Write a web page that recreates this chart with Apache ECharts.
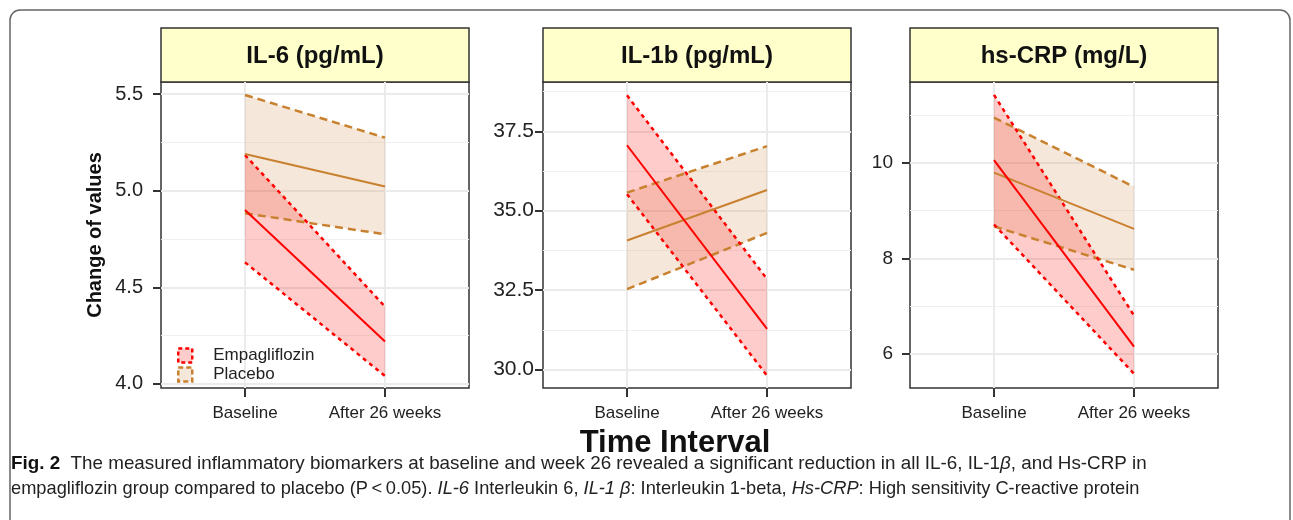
<!DOCTYPE html>
<html><head><meta charset="utf-8">
<script src="https://cdn.jsdelivr.net/npm/echarts@6/dist/echarts.min.js"></script>
<style>html,body{margin:0;padding:0;background:#fff}#c{width:1293px;height:520px}</style>
</head><body><div id="c"></div>
<script>
// ---------- data ----------
const categories = ['Baseline', 'After 26 weeks'];
const panelTitles = ['IL-6 (pg/mL)', 'IL-1b (pg/mL)', 'hs-CRP (mg/L)'];
const groupNames = ['Empagliflozin', 'Placebo'];
// each entry: [Baseline, After 26 weeks]
const il6EmpaMean = [4.90, 4.22];
const il6EmpaUpper = [5.184, 4.40];
const il6EmpaLower = [4.629, 4.041];
const il6PlacMean = [5.19, 5.021];
const il6PlacUpper = [5.495, 5.274];
const il6PlacLower = [4.883, 4.774];

const il1bEmpaMean = [37.06, 31.28];
const il1bEmpaUpper = [38.63, 32.85];
const il1bEmpaLower = [35.52, 29.81];
const il1bPlacMean = [34.06, 35.65];
const il1bPlacUpper = [35.57, 37.03];
const il1bPlacLower = [32.53, 34.30];

const crpEmpaMean = [10.06, 6.15];
const crpEmpaUpper = [11.43, 6.80];
const crpEmpaLower = [8.71, 5.58];
const crpPlacMean = [9.80, 8.62];
const crpPlacUpper = [10.955, 9.50];
const crpPlacLower = [8.67, 7.76];

const il6MajorTicks = [4.0, 4.5, 5.0, 5.5];
const il6MinorTicks = [4.25, 4.75, 5.25];
const il1bMajorTicks = [30.0, 32.5, 35.0, 37.5];
const il1bMinorTicks = [31.25, 33.75, 36.25, 38.75];
const crpMajorTicks = [6, 8, 10];
const crpMinorTicks = [7, 9, 11];
const il6Limits = [3.979, 5.562];
const il1bLimits = [29.42, 39.05];
const crpLimits = [5.28, 11.70];

// ---------- layout / style ----------
const panels = [
  {title: panelTitles[0], em: [il6EmpaMean, il6EmpaUpper, il6EmpaLower], pl: [il6PlacMean, il6PlacUpper, il6PlacLower],
   major: il6MajorTicks, minor: il6MinorTicks, lim: il6Limits, dec: 1, left: 161, labelMargin: 18, labelSize: 20},
  {title: panelTitles[1], em: [il1bEmpaMean, il1bEmpaUpper, il1bEmpaLower], pl: [il1bPlacMean, il1bPlacUpper, il1bPlacLower],
   major: il1bMajorTicks, minor: il1bMinorTicks, lim: il1bLimits, dec: 1, left: 543, labelMargin: 9, labelSize: 21},
  {title: panelTitles[2], em: [crpEmpaMean, crpEmpaUpper, crpEmpaLower], pl: [crpPlacMean, crpPlacUpper, crpPlacLower],
   major: crpMajorTicks, minor: crpMinorTicks, lim: crpLimits, dec: 0, left: 910, labelMargin: 17, labelSize: 19}
];
const W = 308, TOP = 82, H = 306;
const FONT = '"Liberation Sans", Arial, sans-serif';
const RED = '#ff0000', BROWN = '#c8812f';
const RED_FILL = 'rgba(255,0,0,0.2)', BROWN_FILL = 'rgba(205,133,63,0.2)';
const GRIDC = '#ebebeb';

function pts(arr) { return arr.map((v, i) => [i + 1, v]); }

function bandRender(fill) {
  return function (params, api) {
    if (params.dataIndexInside !== 0) return null;
    const n = params.dataInsideLength;
    const top = [], bot = [];
    for (let i = 0; i < n; i++) {
      top.push(api.coord([api.value(0, i), api.value(2, i)]));
      bot.push(api.coord([api.value(0, i), api.value(1, i)]));
    }
    return {type: 'polygon', shape: {points: top.concat(bot.reverse())}, style: {fill: fill}};
  };
}

const grid = [], xAxis = [], yAxis = [], series = [], graphic = [];

graphic.push({type: 'rect', silent: true, z: 0, shape: {x: 10, y: 10, width: 1280, height: 540, r: 10},
  style: {fill: 'none', stroke: '#666', lineWidth: 1.5}});

panels.forEach((p, k) => {
  grid.push({left: p.left, top: TOP, width: W, height: H, show: true, borderColor: '#333', borderWidth: 1.5, backgroundColor: 'transparent'});
  xAxis.push({type: 'value', gridIndex: k, min: 0.4, max: 2.6,
    axisLine: {show: false},
    axisTick: {show: true, customValues: [1, 2], length: 9, lineStyle: {color: '#333', width: 2}},
    axisLabel: {show: true, customValues: [1, 2], formatter: v => categories[Math.round(v) - 1], margin: 17,
      fontSize: 17, color: '#222', fontFamily: FONT},
    splitLine: {show: true, lineStyle: {color: GRIDC, width: 2}}
  });
  // major axis
  yAxis.push({type: 'value', gridIndex: k, min: p.lim[0], max: p.lim[1],
    axisLine: {show: false},
    axisTick: {show: true, customValues: p.major, length: 8, lineStyle: {color: '#333', width: 2}},
    axisLabel: {show: true, customValues: p.major, formatter: v => v.toFixed(p.dec), margin: p.labelMargin,
      fontSize: p.labelSize, color: '#222', fontFamily: FONT},
    splitLine: {show: true, lineStyle: {color: GRIDC, width: 2}}
  });
  // minor grid axis
  yAxis.push({type: 'value', gridIndex: k, min: p.lim[0], max: p.lim[1], position: 'left',
    axisLine: {show: false},
    axisTick: {show: false, customValues: p.minor},
    axisLabel: {show: false, customValues: p.minor},
    splitLine: {show: true, lineStyle: {color: '#f0f0f0', width: 1}}
  });
  const yi = 2 * k;
  [[p.pl, BROWN, BROWN_FILL, [8, 5], 'Placebo'], [p.em, RED, RED_FILL, [4, 4], 'Empagliflozin']].forEach(g => {
    const [d, col, fill, dash, name] = g;
    const [mean, up, lo] = d;
    series.push({type: 'custom', name: name, xAxisIndex: k, yAxisIndex: yi, color: col, silent: true, z: 2,
      data: lo.map((v, i) => [i + 1, v, up[i]]), encode: {x: 0, y: [1, 2]},
      renderItem: bandRender(fill)});
    [up, lo].forEach(b => series.push({type: 'line', xAxisIndex: k, yAxisIndex: yi, data: pts(b), symbol: 'none',
      lineStyle: {color: col, width: 2.5, type: dash, cap: 'butt'}, silent: true, z: 3}));
    series.push({type: 'line', xAxisIndex: k, yAxisIndex: yi, data: pts(mean), symbol: 'none',
      lineStyle: {color: col, width: 2}, silent: true, z: 4});
  });
  graphic.push({type: 'rect', silent: true, shape: {x: p.left, y: 28, width: W, height: 54},
    style: {fill: '#ffffcc', stroke: '#333', lineWidth: 1.5}});
  graphic.push({type: 'text', silent: true, x: p.left + W / 2, y: 56,
    style: {text: p.title, font: 'bold 24px ' + FONT, fill: '#111', align: 'center', verticalAlign: 'middle'}});
});

graphic.push({type: 'text', silent: true, x: 95, y: 235, rotation: Math.PI / 2,
  style: {text: 'Change of values', font: 'bold 20px ' + FONT, fill: '#111', align: 'center', verticalAlign: 'middle'}});
graphic.push({type: 'text', silent: true, x: 675, y: 443,
  style: {text: 'Time Interval', font: 'bold 31px ' + FONT, fill: '#111', align: 'center', verticalAlign: 'middle'}});

const CAPF = '"Liberation Sans", sans-serif';
graphic.push({type: 'text', silent: true, x: 11, y: 464, scaleX: 0.99,
  style: {text: '{b|Fig. 2}  The measured inflammatory biomarkers at baseline and week 26 revealed a significant reduction in all IL-6, IL-1{i|β}, and Hs-CRP in',
    font: '19px ' + CAPF, fill: '#222', verticalAlign: 'middle',
    rich: {b: {fontWeight: 'bold', fontSize: 19, fontFamily: CAPF, fill: '#111'}, i: {fontStyle: 'italic', fontSize: 19, fontFamily: CAPF}}}});
graphic.push({type: 'text', silent: true, x: 11, y: 489, scaleX: 0.96,
  style: {text: 'empagliflozin group compared to placebo (P\u2009<\u20090.05). {i|IL-6} Interleukin 6, {i|IL-1 β}: Interleukin 1-beta, {i|Hs-CRP}: High sensitivity C-reactive protein',
    font: '19px ' + CAPF, fill: '#222', verticalAlign: 'middle',
    rich: {i: {fontStyle: 'italic', fontSize: 19, fontFamily: CAPF}}}});

const chart = echarts.init(document.getElementById('c'), null, {renderer: 'canvas'});
chart.setOption({
  animation: false,
  backgroundColor: '#fff',
  grid, xAxis, yAxis, series, graphic,
  legend: {
    show: true, orient: 'vertical', left: 172, top: 342, itemWidth: 14, itemHeight: 14, itemGap: 2,
    selectedMode: false,
    textStyle: {fontSize: 17, lineHeight: 14, fontFamily: FONT, color: '#222', padding: [0, 0, 0, 16]},
    data: [
      {name: groupNames[0], icon: 'rect', itemStyle: {color: RED_FILL, borderColor: RED, borderWidth: 2.5, borderType: [4, 3]}},
      {name: groupNames[1], icon: 'rect', itemStyle: {color: BROWN_FILL, borderColor: BROWN, borderWidth: 2.5, borderType: [5, 3]}}
    ]
  }
});
</script></body></html>
